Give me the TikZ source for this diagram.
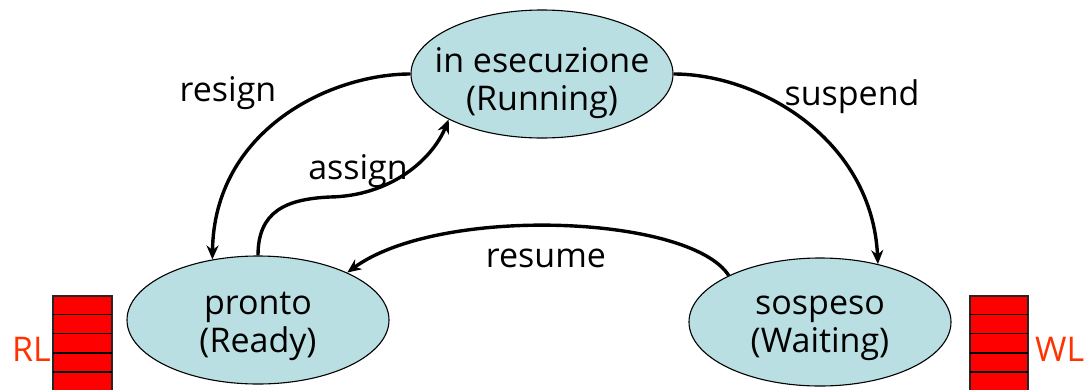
\documentclass[tikz,border=0pt]{standalone}
\usepackage{fontspec}
\setmainfont{Open Sans}
\usetikzlibrary{shapes.geometric,arrows.meta}
\definecolor{stateblue}{RGB}{185,223,227}
\definecolor{qred}{RGB}{255,0,0}
\definecolor{qlabel}{RGB}{255,51,0}
\begin{document}
\begin{tikzpicture}[x=1pt,y=-1pt,
  state/.style={ellipse, draw=black, line width=1.1pt, fill=stateblue,
    minimum width=262pt, minimum height=128pt, inner sep=0pt},
  stext/.style={align=center, anchor=base, inner sep=0pt,
    font=\fontsize{34}{38}\selectfont},
  trans/.style={line width=3.4pt, -{Stealth[length=14pt,width=12pt]}},
  lbl/.style={font=\fontsize{34}{38}\selectfont, anchor=base, inner sep=0pt},
  qlbl/.style={font=\fontsize{34}{38}\selectfont, inner sep=0pt, text=qlabel},
  queue/.style={draw=black!85, line width=1.2pt},
  qline/.style={draw=black, line width=1.2pt}
]
\useasboundingbox (0,0) rectangle (1084,389);

% states
\node[state] (run) at (542,74) {};
\node[state] (pronto) at (258,320) {};
\node[state] (sosp) at (820,322) {};
\node[stext] (trun) at (542,110) {in esecuzione\\(Running)};
\node[stext] (tpronto) at (258,352) {pronto\\(Ready)};
\node[stext] (tsosp) at (820,352) {sospeso\\(Waiting)};

% transitions
\draw[trans] (run.180) .. controls (330,74) and (214,130) .. (pronto.127);
\draw[trans] (pronto.90) .. controls (258,212) and (285,199) .. (330,197)
   .. controls (390,196) and (432,160) .. (run.206);
\draw[trans] (run.0) .. controls (760,74) and (872,140) .. (sosp.45);
\draw[trans] (sosp.153) .. controls (690,215) and (440,205) .. (pronto.28);

% labels
\node[lbl] (lres) at (228,101) {resign};
\node[lbl] (lass) at (358,179) {assign};
\node[lbl] (lsus) at (852,105) {suspend};
\node[lbl] (lrsm) at (546,267) {resume};

% ready list
\fill[qred] (53,296) rectangle (112,392);
\draw[queue] (53,392) -- (53,296) -- (112,296) -- (112,392);
\foreach \yy in {314.5,333.5,353,372}{\draw[qline] (53,\yy) -- (112,\yy);}
\node[qlbl, anchor=base east] (rl) at (51,361) {RL};

% waiting list
\fill[qred] (970,296) rectangle (1028,392);
\draw[queue] (970,392) -- (970,296) -- (1028,296) -- (1028,392);
\foreach \yy in {314.5,333.5,353,372}{\draw[qline] (970,\yy) -- (1028,\yy);}
\node[qlbl, anchor=base west] (wl) at (1035,361) {WL};
\end{tikzpicture}
\end{document}
